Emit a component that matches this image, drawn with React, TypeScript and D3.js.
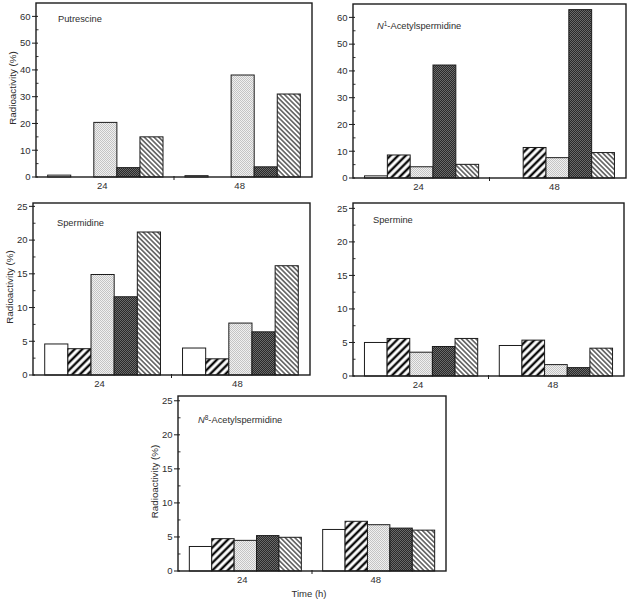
import { useEffect, useRef } from 'react';
import * as d3 from 'd3';

// Time points (h) and the five treatments, in drawing order
const times = ['24', '48'];
const treatments = ['open', 'boldHatch', 'stipple', 'dark', 'fineHatch'];

// Radioactivity (%) per time point, in treatment order
const putrescine = [
  [0.7, 0, 20.4, 3.5, 15.0],
  [0.5, 0, 38.1, 3.8, 31.0],
];
const n1Acetylspermidine = [
  [0.8, 8.6, 4.2, 42.2, 5.1],
  [0, 11.4, 7.6, 62.9, 9.5],
];
const spermidine = [
  [4.6, 3.9, 14.9, 11.6, 21.2],
  [4.0, 2.4, 7.7, 6.4, 16.2],
];
const spermine = [
  [5.0, 5.6, 3.55, 4.4, 5.6],
  [4.55, 5.35, 1.7, 1.25, 4.15],
];
const n8Acetylspermidine = [
  [3.6, 4.75, 4.5, 5.2, 4.95],
  [6.1, 7.3, 6.8, 6.3, 6.0],
];

const ticksHigh = [0, 10, 20, 30, 40, 50, 60];
const ticksLow = [0, 5, 10, 15, 20, 25];

type Panel = {
  data: number[][];
  title: string[]; // [italic prefix, superscript, rest]
  x0: number; x1: number; y0: number; y1: number;
  max: number;
  ticks: number[];
  yTitle: boolean;
  titleDx: number; titleDy: number;
};

const panels: Panel[] = [
  { data: putrescine, title: ['', '', 'Putrescine'], x0: 36, x1: 312, y0: 3, y1: 177, max: 65, ticks: ticksHigh, yTitle: true, titleDx: 22, titleDy: 18.5 },
  { data: n1Acetylspermidine, title: ['N', '1', '-Acetylspermidine'], x0: 353, x1: 626, y0: 4, y1: 178, max: 65, ticks: ticksHigh, yTitle: false, titleDx: 24, titleDy: 25 },
  { data: spermidine, title: ['', '', 'Spermidine'], x0: 33, x1: 310, y0: 203, y1: 375, max: 25.5, ticks: ticksLow, yTitle: true, titleDx: 24, titleDy: 22.5 },
  { data: spermine, title: ['', '', 'Spermine'], x0: 353, x1: 624, y0: 203, y1: 376, max: 25.8, ticks: ticksLow, yTitle: false, titleDx: 20, titleDy: 19.5 },
  { data: n8Acetylspermidine, title: ['N', '8', '-Acetylspermidine'], x0: 178, x1: 446, y0: 396, y1: 571, max: 25.7, ticks: ticksLow, yTitle: true, titleDx: 20, titleDy: 27 },
];

const FONT = '"Liberation Sans", Arial, Helvetica, sans-serif';
const INK = '#1c1c1c';
const TEXT = '#2e2e2e';

const fills: Record<string, string> = {
  open: '#ffffff',
  boldHatch: 'url(#boldHatch)',
  stipple: 'url(#stipple)',
  dark: 'url(#dark)',
  fineHatch: 'url(#fineHatch)',
};

export default function App() {
  const svgRef = useRef<SVGSVGElement>(null);

  useEffect(() => {
    if (!svgRef.current) return;
    const svg = d3.select(svgRef.current);
    svg.selectAll('*').remove();

    // Fill patterns
    const defs = svg.append('defs');
    const hatch = (id: string, angle: number, size: number, sw: number) => {
      const pat = defs.append('pattern')
        .attr('id', id)
        .attr('patternUnits', 'userSpaceOnUse')
        .attr('width', size)
        .attr('height', size)
        .attr('patternTransform', `rotate(${angle})`);
      pat.append('rect').attr('width', size).attr('height', size).attr('fill', '#fff');
      pat.append('line')
        .attr('x1', size / 2).attr('y1', -1)
        .attr('x2', size / 2).attr('y2', size + 1)
        .attr('stroke', '#0c0c0c')
        .attr('stroke-width', sw);
    };
    hatch('boldHatch', 45, 5.4, 2.4);
    hatch('fineHatch', -45, 3.4, 1.05);

    const dots = (id: string, bg: string, fg: string) => {
      const pat = defs.append('pattern')
        .attr('id', id)
        .attr('patternUnits', 'userSpaceOnUse')
        .attr('width', 2)
        .attr('height', 2);
      pat.append('rect').attr('width', 2).attr('height', 2).attr('fill', bg);
      pat.append('rect').attr('width', 1).attr('height', 1).attr('fill', fg);
      pat.append('rect').attr('x', 1).attr('y', 1).attr('width', 1).attr('height', 1).attr('fill', fg);
    };
    dots('stipple', '#f0f0f0', '#c4c4c4');
    dots('dark', '#2a2a2a', '#6a6a6a');

    panels.forEach(p => {
      const g = svg.append('g');
      const w = p.x1 - p.x0;

      const x = d3.scaleBand<string>()
        .domain(times)
        .range([p.x0, p.x1])
        .paddingInner(0.16)
        .paddingOuter(0.085);
      const xInner = d3.scaleBand<string>()
        .domain(treatments)
        .range([0, x.bandwidth()]);
      const y = d3.scaleLinear()
        .domain([0, p.max])
        .range([p.y1, p.y0]);

      // Bars
      times.forEach((t, ti) => {
        g.append('g')
          .selectAll('rect')
          .data(p.data[ti].map((v, i) => ({ v, k: treatments[i] })).filter(d => d.v > 0))
          .join('rect')
          .attr('x', d => (x(t) ?? 0) + (xInner(d.k) ?? 0))
          .attr('y', d => y(d.v))
          .attr('width', xInner.bandwidth())
          .attr('height', d => p.y1 - y(d.v))
          .attr('fill', d => fills[d.k])
          .attr('stroke', INK)
          .attr('stroke-width', 1);
      });

      // Frame
      g.append('rect')
        .attr('x', p.x0)
        .attr('y', p.y0)
        .attr('width', w)
        .attr('height', p.y1 - p.y0)
        .attr('fill', 'none')
        .attr('stroke', INK)
        .attr('stroke-width', 1.4);

      // Y ticks: major ones cross the axis, minor ones halfway between
      g.append('g').selectAll('line')
        .data(p.ticks)
        .join('line')
        .attr('x1', p.x0 - 4).attr('x2', p.x0 + 2)
        .attr('y1', d => y(d)).attr('y2', d => y(d))
        .attr('stroke', INK).attr('stroke-width', 1);
      const minor = p.ticks.slice(1).map((d, i) => (d + p.ticks[i]) / 2);
      g.append('g').selectAll('line')
        .data(minor)
        .join('line')
        .attr('x1', p.x0).attr('x2', p.x0 + 2.5)
        .attr('y1', d => y(d)).attr('y2', d => y(d))
        .attr('stroke', INK).attr('stroke-width', 0.9);

      g.append('g').selectAll('text')
        .data(p.ticks)
        .join('text')
        .attr('x', p.x0 - 5.5)
        .attr('y', d => y(d))
        .attr('dy', '0.35em')
        .attr('text-anchor', 'end')
        .attr('font-family', FONT)
        .attr('font-size', 9.5)
        .attr('fill', TEXT)
        .text(d => d);

      // X axis: tick between groups, labels under groups
      const mid = ((x(times[0]) ?? 0) + x.bandwidth() + (x(times[1]) ?? 0)) / 2;
      g.append('line')
        .attr('x1', mid).attr('x2', mid)
        .attr('y1', p.y1 - 1).attr('y2', p.y1 + 3)
        .attr('stroke', INK).attr('stroke-width', 1);

      g.append('g').selectAll('text')
        .data(times)
        .join('text')
        .attr('x', d => (x(d) ?? 0) + x.bandwidth() / 2 - 3)
        .attr('y', p.y1 + 12)
        .attr('text-anchor', 'middle')
        .attr('font-family', FONT)
        .attr('font-size', 9.5)
        .attr('fill', TEXT)
        .text(d => d);

      // Panel title
      const title = g.append('text')
        .attr('x', p.x0 + p.titleDx)
        .attr('y', p.y0 + p.titleDy)
        .attr('font-family', FONT)
        .attr('font-size', 9.3)
        .attr('fill', TEXT);
      if (p.title[0]) {
        title.append('tspan').attr('font-style', 'italic').text(p.title[0]);
        title.append('tspan')
          .attr('font-size', 6.5)
          .attr('dy', -3.5)
          .text(p.title[1]);
        title.append('tspan').attr('dy', 3.5).text(p.title[2]);
      } else {
        title.text(p.title[2]);
      }

      if (p.yTitle) {
        const cx = p.x0 - 24;
        const cy = (p.y0 + p.y1) / 2 - 2;
        g.append('text')
          .attr('transform', `translate(${cx},${cy}) rotate(-90)`)
          .attr('text-anchor', 'middle')
          .attr('dominant-baseline', 'central')
          .attr('font-family', FONT)
          .attr('font-size', 9.8)
          .attr('fill', TEXT)
          .text('Radioactivity (%)');
      }
    });

    // Shared x-axis title under the last panel
    const last = panels[panels.length - 1];
    svg.append('text')
      .attr('x', (last.x0 + last.x1) / 2 - 3)
      .attr('y', 597)
      .attr('text-anchor', 'middle')
      .attr('font-family', FONT)
      .attr('font-size', 9.5)
      .attr('fill', TEXT)
      .text('Time (h)');
  }, []);

  return (
    <svg
      ref={svgRef}
      width={628}
      height={599}
      style={{ position: 'absolute', left: 0, top: 0, background: '#fff' }}
    />
  );
}
